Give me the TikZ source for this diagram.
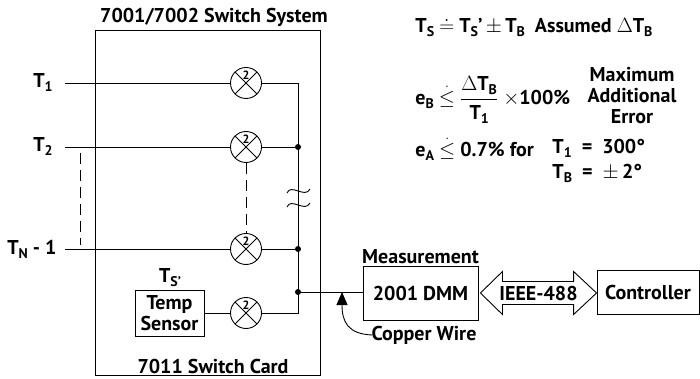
\documentclass[tikz,border=0pt]{standalone}
\usepackage{amsmath}
\usepackage{fontspec}
\setmainfont{PT Sans}
\usetikzlibrary{positioning,calc,arrows.meta}

\newcommand\sub[1]{\raisebox{-0.4ex}{\fontsize{14}{14}\selectfont #1}}
\newcommand\ldot{\ensuremath{\stackrel{.}{\leq}}}

\tikzset{
  sw/.style={circle, draw, minimum size=31pt, inner sep=0pt, path picture={
      \draw (path picture bounding box.north west) -- (path picture bounding box.south east)
            (path picture bounding box.north east) -- (path picture bounding box.south west);
      \node[font=\fontsize{12}{12}\selectfont\rmfamily\bfseries, inner sep=0pt]
        at ([yshift=8pt]path picture bounding box.center) {2};}},
  dot/.style={circle, fill, inner sep=0pt, minimum size=6pt},
  box/.style={draw, align=center},
  gap/.style={dash pattern=on 11pt off 6pt}
}

\begin{document}
\begin{tikzpicture}[x=1pt,y=-1pt,line width=0.9pt,inner sep=1pt,
    font=\bfseries\fontsize{20}{21}\selectfont]
  \useasboundingbox (0,0) rectangle (700,379);

  % switch card
  \node[draw, minimum width=225, minimum height=345, inner sep=0pt] (card) at (207.5,202.5) {};
  \node (sys) at (214,17) {7001/7002 Switch System};
  \node (scard) at (213,366) {7011 Switch Card};

  % channels
  \foreach \n/\y in {1/83,2/147,3/249,4/313}
    \node[sw] (s\n) at (246,\y) {};
  \foreach \n/\y in {1/83,2/147,3/249}
    \coordinate (in\n) at (65,\y);
  \node[left=11pt of in1] (t1) {T\sub{1}};
  \node[left=11pt of in2] (t2) {T\sub{2}};
  \node[left=7pt of in3] (t3) {T\sub{N} - 1};
  \draw[gap] (80,153) -- (80,245);
  \draw[gap] (s2) -- (s3);

  % bus
  \coordinate (b1) at (298,83);
  \coordinate (b4) at (298,313);
  \node[dot] (d2) at (298,147) {};
  \node[dot] (d3) at (298,249) {};
  \node[dot] (d4) at (298,292) {};
  \draw (in1) -- (s1) -- (b1) -- (b4) -- (s4);
  \draw (in2) -- (s2) -- (d2);
  \draw (in3) -- (s3) -- (d3);
  \foreach \y in {190,204}
    \draw (287,\y+3) .. controls (291,\y-7) and (305,\y+9) .. (310,\y-1);

  % temp sensor
  \node[box, minimum width=69, minimum height=46] (sens) at (169.5,313) {Temp\\Sensor};
  \node (tsp) at (170,278) {T\sub{S'}};
  \draw (sens) -- (s4);

  % measurement
  \node[box, minimum width=115, minimum height=54] (dmm) at (420.5,293) {2001 DMM};
  \node[above=0pt of dmm] (meas) {Measurement};
  \draw (d4) -- (d4 -| dmm.west);
  \coordinate (tap) at (342,292);
  \node (cw) at (424,335) {Copper Wire};
  \draw[-{Triangle[length=13pt,width=11pt]}] ([xshift=2]cw.west) .. controls (348,334) and (342,322) .. (tap);

  % controller and bus arrow
  \node[box, minimum width=102, minimum height=44] (ctrl) at (648,292) {Controller};
  \coordinate (al) at ([xshift=2]dmm.east);
  \coordinate (ar) at (al -| ctrl.west);
  \draw (al) -- ++(22,-21.5) |- ($(ar)+(-23,-11.5)$) -- ++(0,-10) -- (ar)
    -- ++(-23,21.5) -- ++(0,-10) -| ($(al)+(22,11.5)$) -- ++(0,10) -- cycle;
  \node (ieee) at ($(al)!0.5!(ar)$) {IEEE-488};

  % error terms
  \node[anchor=west] (eqs) at (414,27)
    {T\sub{S} \(\doteq\) T\sub{S}'\,\(\pm\)\,T\sub{B}\enspace Assumed \(\Delta\)T\sub{B}};
  \node[anchor=west] (eqb) at (414,100)
    {e\sub{B} \ldot{} \(\dfrac{\text{\(\Delta\)T\sub{B}}}{\text{T\sub{1}}}\) \(\times\)100\%};
  \node[align=center] (maxerr) at (632,96) {Maximum\\Additional\\Error};
  \node[anchor=west] (eqa) at (414,148) {e\sub{A} \ldot{} 0.7\% for};
  \node[anchor=west] (tone) at (551,148) {T\sub{1}\enspace=\enspace300\textdegree};
  \node[anchor=west] (tb) at (551,173) {T\sub{B}\enspace=\enspace\(\pm\)\,2\textdegree};
\end{tikzpicture}
\end{document}
